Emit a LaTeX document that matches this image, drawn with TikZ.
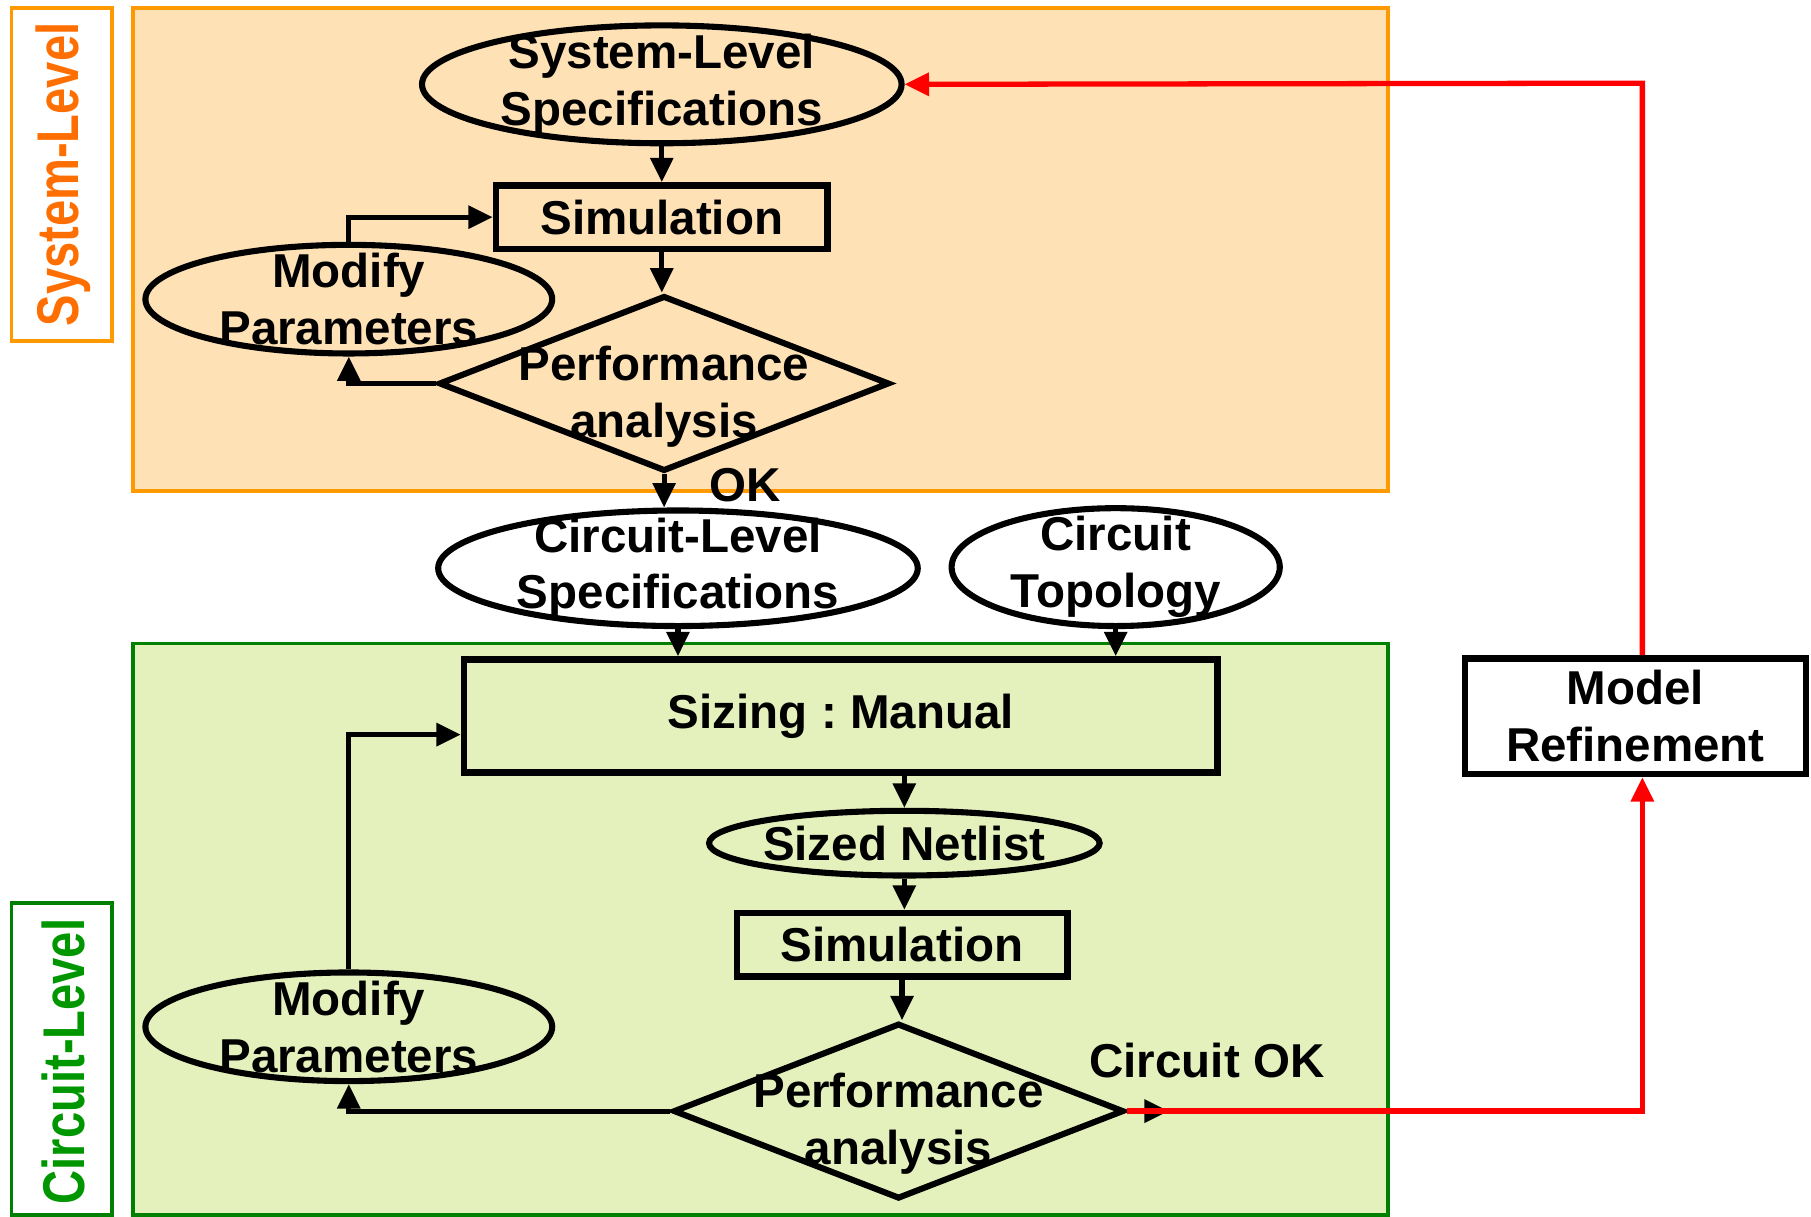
\documentclass[tikz,border=0pt]{standalone}
\usepackage{fontspec}
\setmainfont{Liberation Sans}
\usetikzlibrary{shapes.geometric,arrows.meta,positioning}

\definecolor{sysfill}{RGB}{254,226,182}
\definecolor{sysline}{RGB}{255,153,0}
\definecolor{systext}{RGB}{255,110,0}
\definecolor{cirfill}{RGB}{229,241,188}
\definecolor{cirline}{RGB}{0,128,0}
\definecolor{cirtext}{RGB}{0,150,0}

% two lines set a little below the centre of a decision
\newcommand{\lowpair}[2]{\raisebox{-3.4pt}[\height][\depth]{\begin{tabular}{@{}c@{}}#1\\#2\end{tabular}}}

\begin{document}
\begin{tikzpicture}[x=0.01cm,y=-0.01cm,
    font={\fontsize{11.7}{14}\selectfont\bfseries\frenchspacing},
    every node/.style={align=center},
    ell/.style={draw,ellipse,line width=1.5pt,inner xsep=0pt,inner ysep=-3pt},
    box/.style={draw,rectangle,line width=1.6pt,inner ysep=1pt},
    dec/.style={draw,diamond,aspect=2.54,line width=1.5pt,inner sep=-5.5pt,
                minimum width=3.9cm,minimum height=1.52cm},
    flow/.style={line width=1.25pt,-{Triangle[length=6pt,width=5.5pt]}},
    back/.style={red,line width=1.3pt,-{Triangle[length=6pt,width=5.5pt]}},
    lvl/.style={rotate=90,font={\fontsize{11.6}{14}\selectfont\bfseries}}]
  \useasboundingbox (0,0) rectangle (1568,1053);

  % the two level areas and their tags
  \draw[sysline,fill=sysfill,line width=0.9pt] (115,7) rectangle (1202,425);
  \draw[cirline,fill=cirfill,line width=0.9pt] (115,557) rectangle (1202,1052);
  \draw[sysline,line width=0.9pt] (10,7) rectangle (97,295);
  \draw[cirline,line width=0.9pt] (10,782) rectangle (97,1052);
  \node[lvl,text=systext] (systag) at (55,151) {\scalebox{1}[1.25]{System-Level}};
  \node[lvl,text=cirtext] (cirtag) at (55,919) {\scalebox{1}[1.25]{Circuit-Level}};

  % system level loop
  \node[ell,minimum width=4.15cm,minimum height=1.02cm] (sysspec) at (573,73) {System-Level\\Specifications};
  \node[box,minimum width=2.87cm,minimum height=0.55cm] (sim1) at (573,188) {Simulation};
  \node[ell,minimum width=3.52cm,minimum height=0.94cm] (mod1) at (302,259) {Modify\\Parameters};
  \node[dec] (perf1) at (575,332) {\lowpair{Performance}{analysis}};
  \node (ok) at (645,420) {OK};

  % circuit level loop
  \node[ell,minimum width=4.15cm,minimum height=1.0cm] (cirspec) at (587,492) {Circuit-Level\\Specifications};
  \node[ell,minimum width=2.84cm,minimum height=1.02cm] (topo) at (966,491) {Circuit\\Topology};
  \node[box,minimum width=6.52cm,minimum height=0.98cm] (sizing) at (728,620) {Sizing : Manual};
  \node[ell,inner xsep=-8pt,minimum width=3.38cm,minimum height=0.56cm] (netlist) at (783,730) {Sized Netlist};
  \node[box,minimum width=2.86cm,minimum height=0.55cm] (sim2) at (781,818) {Simulation};
  \node[dec] (perf2) at (778,962) {\lowpair{Performance}{analysis}};
  \node[ell,minimum width=3.52cm,minimum height=0.94cm] (mod2) at (302,889) {Modify\\Parameters};
  \node (cirok) at (1045,918) {Circuit OK};
  \node[box,minimum width=2.95cm,minimum height=1.0cm] (model) at (1416,620) {Model\\Refinement};

  \coordinate (okTip) at (1012,962);
  \coordinate (refDown) at (1422,962);
  \coordinate (refUp) at (1422,72);

  \draw[flow] (sysspec.south) -- (sim1.north);
  \draw[flow] (sim1.south) -- (sim1.south |- perf1.north);
  \draw[flow] (mod1.north) |- (sim1.west);
  \draw[flow] (perf1.west) -| (mod1.south);
  \draw[flow] (perf1.south) -- (perf1.south |- cirspec.north);
  \draw[flow] (cirspec.south) -- (cirspec.south |- sizing.north);
  \draw[flow] (topo.south) -- (topo.south |- sizing.north);
  \draw[flow] (netlist.north |- sizing.south) -- (netlist.north);
  \draw[flow] (netlist.south) -- (netlist.south |- sim2.north);
  \draw[flow] (sim2.south) -- (sim2.south |- perf2.north);
  \draw[flow] (perf2.west) -| (mod2.south);
  \draw[flow] (mod2.north) |- ([yshift=-0.16cm]sizing.west);
  \draw[flow] (perf2.east) -- (okTip);

  % refinement feedback
  \draw[back] (perf2.east) -- (refDown) -- (refDown |- model.south);
  \draw[back] (refDown |- model.north) -- (refUp) -- (sysspec.east);
\end{tikzpicture}
\end{document}
